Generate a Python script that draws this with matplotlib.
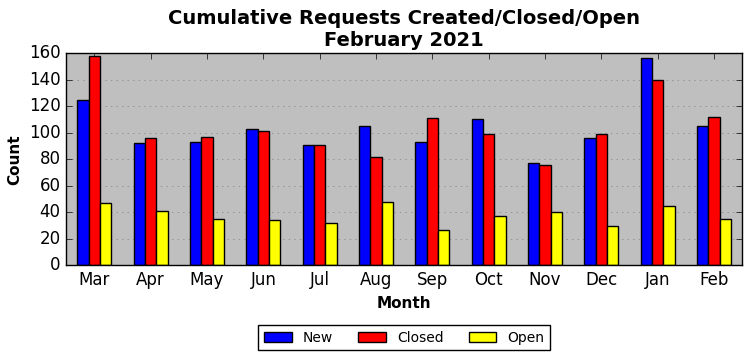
import matplotlib
matplotlib.use('Agg')
import matplotlib.pyplot as plt
import numpy as np

plt.style.use('classic')

months = ['Mar', 'Apr', 'May', 'Jun', 'Jul', 'Aug', 'Sep', 'Oct', 'Nov', 'Dec', 'Jan', 'Feb']
new = [125, 92, 93, 103, 91, 105, 93, 110, 77, 96, 156, 105]
closed = [158, 96, 97, 101, 91, 82, 111, 99, 76, 99, 140, 112]
open_ = [47, 41, 35, 34, 32, 48, 27, 37, 40, 30, 45, 35]

x = np.arange(len(months))
w = 0.2

fig, ax = plt.subplots(figsize=(7.52, 3.61), dpi=100)
fig.patch.set_facecolor('white')
ax.set_facecolor('#bfbfbf')
ax.bar(x - w, new, w, color='blue', edgecolor='black', label='New', align='center')
ax.bar(x, closed, w, color='red', edgecolor='black', label='Closed', align='center')
ax.bar(x + w, open_, w, color='yellow', edgecolor='black', label='Open', align='center')

ax.set_xlim(-0.5, len(months) - 0.5)
ax.set_ylim(0, 160)
ax.set_xticks(x)
ax.set_xticklabels(months, fontsize=12)
ax.set_yticks(range(0, 161, 20))
ax.tick_params(axis='y', labelsize=12)
ax.yaxis.grid(True, linestyle=':', color='gray')
ax.xaxis.grid(False)
ax.set_axisbelow(True)
ax.set_xlabel('Month', fontsize=11, fontweight='bold')
ax.set_ylabel('Count', fontsize=11, fontweight='bold')
ax.set_title('Cumulative Requests Created/Closed/Open\nFebruary 2021', fontsize=14, fontweight='bold')
ax.legend(loc='upper center', bbox_to_anchor=(0.5, -0.25), ncol=3, fontsize=10,
          columnspacing=1.8)

plt.subplots_adjust(left=0.088, right=0.987, top=0.853, bottom=0.265)
plt.savefig('out.png', dpi=100, facecolor='white')
